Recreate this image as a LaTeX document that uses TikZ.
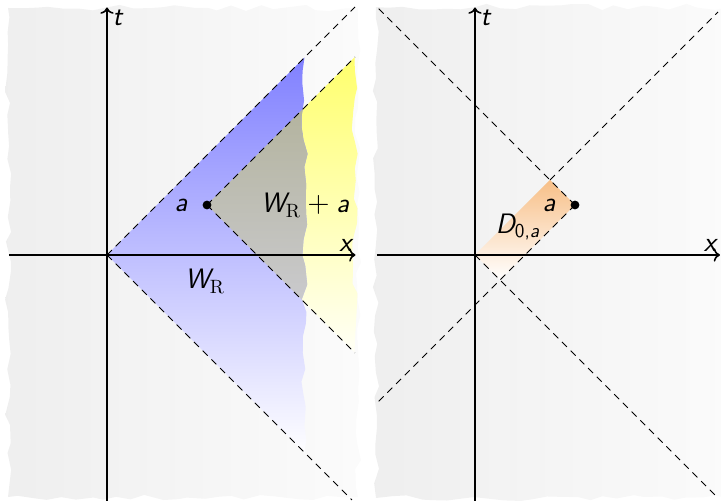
\documentclass[tikz,border=0pt]{standalone}
\usepackage{amssymb,amsfonts,amsmath}
\usetikzlibrary{positioning}
\usetikzlibrary{arrows.meta}
\usetikzlibrary{decorations.pathmorphing}
\tikzset{circ/.style = {fill, circle, inner sep = 0, minimum size = 5}}
\tikzset{axis/.style = {line width = 0.9pt, ->}}
\tikzset{cone/.style = {dash pattern = on 4pt off 3pt, line width = 0.45pt}}
\tikzset{torn/.style = {decorate, decoration = {random steps, segment length = 8pt, amplitude = 1.8pt}}}
\tikzset{paper/.style = {left color = pgray, right color = plight, torn}}
\definecolor{pgray}{rgb}{0.935, 0.935, 0.935}
\definecolor{plight}{rgb}{0.985, 0.985, 0.985}
\definecolor{mblue}{rgb}{0.5, 0.5, 1}
\definecolor{mblue2}{rgb}{0.71, 0.71, 1}
\definecolor{myellow}{rgb}{1, 1, 0.42}
\definecolor{myellow2}{rgb}{1, 1, 0.97}
\definecolor{mgray}{rgb}{0.68, 0.68, 0.57}
\definecolor{mgray2}{rgb}{0.76, 0.76, 0.77}
\definecolor{mgray3}{rgb}{0.86, 0.86, 0.95}
\definecolor{morange}{rgb}{0.97, 0.75, 0.53}
\newcommand{\sv}[1]{\textsf{\itshape #1}}

\begin{document}
\begin{tikzpicture}[font = \fontsize{16}{19}\selectfont]
      \useasboundingbox (-2.14, -4.92) rectangle (12.28, 5.10);
      \pgfmathsetseed{17}
      % left picture: W_R and W_R + a
      \path [paper] (-1.98, -4.84) rectangle (5.02, 4.94);
      \coordinate (O) at (0, 0);
      \coordinate (a0) at (2, 1);
      \begin{scope}
        \clip (a0) -- (6, 5) -- (6, -3) -- cycle;
        \shade [top color = myellow, bottom color = myellow2, torn]
          (1, -1.96) rectangle (4.95, 3.96);
      \end{scope}
      \begin{scope}
        \clip (O) -- (5, 5) -- (5, -5) -- cycle;
        \pgfmathsetseed{5}
        \shade [top color = mblue, middle color = mblue2, bottom color = white, torn]
          (-1, -3.95) rectangle (3.95, 3.95);
      \end{scope}
      \begin{scope}
        \clip (a0) -- (6, 5) -- (6, -3) -- cycle;
        \pgfmathsetseed{5}
        \shade [top color = mgray, middle color = mgray2, bottom color = mgray3, torn]
          (-1, -3.95) rectangle (3.95, 3.95);
      \end{scope}
      \coordinate (c1) at (4.96, 4.96);
      \coordinate (c2) at (4.9, -4.9);
      \coordinate (c3) at (4.96, 3.96);
      \coordinate (c4) at (4.96, -1.96);
      \draw [cone] (O) -- (c1);
      \draw [cone] (O) -- (c2);
      \draw [cone] (a0) -- (c3);
      \draw [cone] (a0) -- (c4);
      \coordinate (xl) at (-1.96, 0);
      \coordinate (xr) at (4.97, 0);
      \coordinate (tb) at (0, -4.95);
      \coordinate (tt) at (0, 4.95);
      \draw [axis] (xl) -- (xr);
      \draw [axis] (tb) -- (tt);
      \node [anchor = north west, inner sep = 1pt, xshift = 2pt] (lt) at (tt) {$\sv{t}$};
      \node [anchor = south east, inner sep = 1pt, xshift = -1pt, yshift = 1pt] (lx) at (xr) {$\sv{x}$};
      \node [circ] (a) at (a0) {};
      \node [left = 5pt of a] (la) {$\sv{a}$};
      \node (wra) at (3.96, 1.0) {$\sv{W}_{\mathrm{R}} + \sv{a}$};
      \node (wr) at (1.96, -0.52) {$\sv{W}_{\mathrm{R}}$};
      % right picture: D_{0,a}
      \begin{scope}[xshift = 7.36cm]
        \path [paper] (-1.98, -4.86) rectangle (5.1, 4.96);
        \coordinate (O') at (0, 0);
        \coordinate (a1) at (2, 1);
        \coordinate (d1) at (1.5, 1.5);
        \coordinate (d2) at (0.5, -0.5);
        \shade [top color = morange, bottom color = white]
          (O') -- (d1) -- (a1) -- (d2) -- cycle;
        \coordinate (e1) at (-1.94, 4.94);
        \coordinate (e2) at (-1.94, -2.94);
        \coordinate (e3) at (4.86, 4.86);
        \coordinate (e4) at (4.86, -4.86);
        \draw [cone] (a1) -- (e1);
        \draw [cone] (a1) -- (e2);
        \draw [cone] (d1) -- (e3);
        \draw [cone] (O') -- (e4);
        \coordinate (yl) at (-1.96, 0);
        \coordinate (yr) at (4.9, 0);
        \coordinate (sb) at (0, -4.95);
        \coordinate (st) at (0, 4.95);
        \draw [axis] (yl) -- (yr);
        \draw [axis] (sb) -- (st);
        \node [anchor = north west, inner sep = 1pt, xshift = 2pt] (rt) at (st) {$\sv{t}$};
        \node [anchor = south east, inner sep = 1pt, xshift = -1pt, yshift = 1pt] (rx) at (yr) {$\sv{x}$};
        \node [circ] (b) at (a1) {};
        \node [left = 5pt of b] (lb) {$\sv{a}$};
        \node (dlab) at (0.86, 0.56) {$\sv{D}_{\textsf{0,\itshape a}}$};
      \end{scope}
    \end{tikzpicture}
\end{document}
